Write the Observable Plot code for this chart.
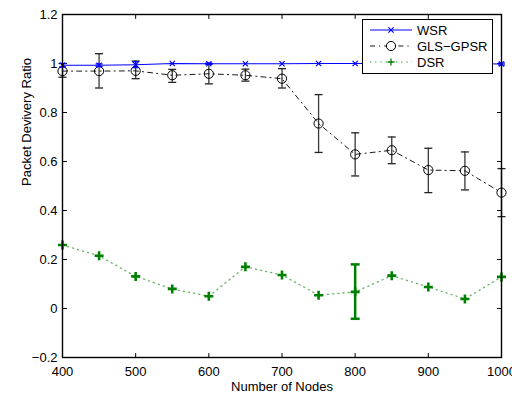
<!DOCTYPE html>
<html>
<head>
<meta charset="utf-8">
<script src="https://cdn.jsdelivr.net/npm/d3@7"></script>
<script src="https://cdn.jsdelivr.net/npm/@observablehq/plot@0.6"></script>
<style>
  html, body { margin: 0; padding: 0; background: #fff; }
  #chart { width: 512px; height: 397px; }
</style>
</head>
<body>
<div id="chart"></div>
<script>
// ---- data ----
const nodes = [400, 450, 500, 550, 600, 650, 700, 750, 800, 850, 900, 950, 1000];
const wsr   = [0.993, 0.993, 0.995, 1.0, 0.999, 0.999, 0.999, 1.0, 1.0, 1.0, 1.0, 1.0, 0.998];
const wsrErr = [0.007, 0.005, 0.012, 0, 0.003, 0, 0, 0, 0, 0, 0, 0, 0.004];
const gls   = [0.969, 0.969, 0.970, 0.952, 0.958, 0.952, 0.938, 0.755, 0.629, 0.646, 0.565, 0.562, 0.473];
const glsLo = [0.944, 0.900, 0.938, 0.923, 0.917, 0.928, 0.900, 0.637, 0.541, 0.591, 0.473, 0.484, 0.375];
const glsHi = [1.000, 1.040, 1.010, 0.976, 0.999, 0.977, 0.979, 0.873, 0.717, 0.700, 0.654, 0.639, 0.571];
const dsr   = [0.259, 0.215, 0.131, 0.080, 0.050, 0.170, 0.137, 0.054, 0.068, 0.134, 0.088, 0.039, 0.129];
const dsrLo = [null, null, null, null, null, null, null, null, -0.042, null, null, null, null];
const dsrHi = [null, null, null, null, null, null, null, null, 0.180, null, null, null, null];
const seriesNames = ["WSR", "GLS\u2212GPSR", "DSR"];
const xTicks = [400, 500, 600, 700, 800, 900, 1000];
const yTicks = [-0.2, 0, 0.2, 0.4, 0.6, 0.8, 1.0, 1.2];
const xTitle = "Number of Nodes";
const yTitle = "Packet Devivery Ratio";

// ---- tables ----
const wsrData = nodes.map((n, i) => ({n, v: wsr[i], lo: wsr[i] - wsrErr[i], hi: wsr[i] + wsrErr[i], e: wsrErr[i]}));
const wsrErrData = wsrData.filter(d => d.e > 0);
const glsData = nodes.map((n, i) => ({n, v: gls[i], lo: glsLo[i], hi: glsHi[i]}));
const dsrData = nodes.map((n, i) => ({n, v: dsr[i], lo: dsrLo[i], hi: dsrHi[i]}));
const dsrErrData = dsrData.filter(d => d.lo != null);

// ---- symbols ----
const rad = s => Math.sqrt(s / Math.PI);
const capSym = {draw(c, s) { const r = rad(s); c.moveTo(-r, 0); c.lineTo(r, 0); }};
const timesSym = {draw(c, s) { const r = rad(s); c.moveTo(-r, -r); c.lineTo(r, r); c.moveTo(-r, r); c.lineTo(r, -r); }};
const plusSym = {draw(c, s) { const r = rad(s); c.moveTo(-r, 0); c.lineTo(r, 0); c.moveTo(0, -r); c.lineTo(0, r); }};
const tickShape = {draw(c, l) { c.moveTo(0, 0); c.lineTo(0, -l); }};

const fmtY = d => { const s = String(+(+d).toFixed(1)); return s.replace("-", "\u2212"); };
const font = "'Liberation Sans', Arial, Helvetica, sans-serif";

const BLUE = "#0000ff", GREEN = "#008000", GRAY = "#3a3a3a";
const glsDash = "5,4,1.2,4";
const dsrDash = "1.2,4";

const tickOpts = {length: 4, anchor: "start", shape: tickShape, stroke: "black", strokeWidth: 1};

const chart = Plot.plot({
  width: 512, height: 397,
  marginLeft: 62, marginRight: 11, marginTop: 14, marginBottom: 40,
  style: {fontFamily: font, fontSize: "13px", background: "white", color: "black", overflow: "visible"},
  x: {domain: [400, 1000]},
  y: {domain: [-0.2, 1.2]},
  marks: [
    Plot.axisX({ticks: xTicks, tickSize: 0, tickPadding: 9, tickFormat: d => String(d), label: null, fontSize: 13}),
    Plot.axisY({ticks: yTicks, tickSize: 0, tickPadding: 5, tickFormat: fmtY, label: null, fontSize: 13}),
    Plot.vector(xTicks, {x: d => d, frameAnchor: "bottom", rotate: 0, ...tickOpts}),
    Plot.vector(xTicks, {x: d => d, frameAnchor: "top", rotate: 180, ...tickOpts}),
    Plot.vector(yTicks, {y: d => d, frameAnchor: "left", rotate: 90, ...tickOpts}),
    Plot.vector(yTicks, {y: d => d, frameAnchor: "right", rotate: -90, ...tickOpts}),

    // DSR
    Plot.line(dsrData, {x: "n", y: "v", stroke: GREEN, strokeWidth: 1.3, strokeDasharray: dsrDash, strokeOpacity: 0.6}),
    Plot.ruleX(dsrErrData, {x: "n", y1: "lo", y2: "hi", stroke: GREEN, strokeWidth: 2.5}),
    Plot.dot(dsrErrData, {x: "n", y: "lo", symbol: capSym, r: 4.5, fill: "none", stroke: GREEN, strokeWidth: 2.5}),
    Plot.dot(dsrErrData, {x: "n", y: "hi", symbol: capSym, r: 4.5, fill: "none", stroke: GREEN, strokeWidth: 2.5}),
    Plot.dot(dsrData, {x: "n", y: "v", symbol: plusSym, r: 4.5, fill: "none", stroke: GREEN, strokeWidth: 2.6}),

    // GLS-GPSR
    Plot.ruleX(glsData, {x: "n", y1: "lo", y2: "hi", stroke: GRAY, strokeWidth: 1.3}),
    Plot.dot(glsData, {x: "n", y: "lo", symbol: capSym, r: 4, fill: "none", stroke: "#222", strokeWidth: 1.3}),
    Plot.dot(glsData, {x: "n", y: "hi", symbol: capSym, r: 4, fill: "none", stroke: "#222", strokeWidth: 1.3}),
    Plot.line(glsData, {x: "n", y: "v", stroke: "black", strokeWidth: 0.9, strokeDasharray: glsDash}),
    Plot.dot(glsData, {x: "n", y: "v", symbol: "circle", r: 4.6, fill: "none", stroke: "black", strokeWidth: 1}),

    // WSR
    Plot.ruleX(wsrErrData, {x: "n", y1: "lo", y2: "hi", stroke: BLUE, strokeWidth: 1.2}),
    Plot.dot(wsrErrData, {x: "n", y: "lo", symbol: capSym, r: 3.5, fill: "none", stroke: BLUE, strokeWidth: 1.2}),
    Plot.dot(wsrErrData, {x: "n", y: "hi", symbol: capSym, r: 3.5, fill: "none", stroke: BLUE, strokeWidth: 1.2}),
    Plot.line(wsrData, {x: "n", y: "v", stroke: BLUE, strokeWidth: 1.1}),
    Plot.dot(wsrData, {x: "n", y: "v", symbol: timesSym, r: 2.6, fill: "none", stroke: BLUE, strokeWidth: 1.2}),

    Plot.frame({stroke: "black", strokeWidth: 1.4}),

    Plot.text([xTitle], {frameAnchor: "bottom", dy: 29, lineAnchor: "middle", fontSize: 13, fill: "black"}),
    Plot.text([yTitle], {frameAnchor: "left", dx: -36, rotate: -90, lineAnchor: "middle", fontSize: 13, fill: "black"})
  ]
});

document.getElementById("chart").appendChild(chart);

// ---- legend (inside plot, top-right) ----
const svg = d3.select(chart);
const lg = svg.append("g").attr("font-family", font).attr("font-size", 13).attr("text-anchor", "start");
const bx = 362.5, by = 19.5, bw = 130, bh = 54;
lg.append("rect").attr("x", bx).attr("y", by).attr("width", bw).attr("height", bh)
  .attr("fill", "white").attr("stroke", "black").attr("stroke-width", 1);
const rows = [
  {name: seriesNames[0], stroke: BLUE, dash: null, sw: 1.1, op: 1, sym: "times"},
  {name: seriesNames[1], stroke: "black", dash: glsDash, sw: 0.9, op: 1, sym: "circle"},
  {name: seriesNames[2], stroke: GREEN, dash: dsrDash, sw: 1.3, op: 0.6, sym: "plus"}
];
const rowY = [30, 46, 62];
rows.forEach((r, i) => {
  const y = rowY[i];
  const ln = lg.append("line").attr("x1", 370).attr("x2", 412).attr("y1", y).attr("y2", y)
    .attr("stroke", r.stroke).attr("stroke-width", r.sw).attr("stroke-opacity", r.op);
  if (r.dash) ln.attr("stroke-dasharray", r.dash);
  const cx = 391;
  if (r.sym === "times") {
    lg.append("path").attr("d", `M${cx-2.6},${y-2.6}L${cx+2.6},${y+2.6}M${cx-2.6},${y+2.6}L${cx+2.6},${y-2.6}`)
      .attr("stroke", BLUE).attr("stroke-width", 1.2).attr("fill", "none");
  } else if (r.sym === "circle") {
    lg.append("circle").attr("cx", cx).attr("cy", y).attr("r", 4.6).attr("fill", "white").attr("stroke", "black");
  } else {
    lg.append("path").attr("d", `M${cx-3.5},${y}L${cx+3.5},${y}M${cx},${y-3.5}L${cx},${y+3.5}`)
      .attr("stroke", GREEN).attr("stroke-width", 1.3).attr("fill", "none");
  }
  lg.append("text").attr("x", 417).attr("y", y).attr("dy", "0.35em").attr("fill", "black").attr("text-anchor", "start").text(r.name);
});
</script>
</body>
</html>
